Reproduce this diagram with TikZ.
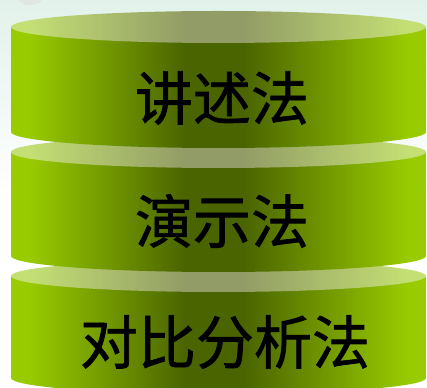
\documentclass[tikz,border=0pt]{standalone}
\usepackage{fontspec}
\usepackage{tikz}
\newfontfamily\cjk[FakeBold=1.2]{Noto Sans CJK SC}
\definecolor{sidegreen}{HTML}{99CC00}
\definecolor{sidedark}{HTML}{4A6400}
\definecolor{lidlight}{HTML}{C4E074}
\definecolor{liddark}{HTML}{929C66}
\definecolor{mintbg}{HTML}{E2F2EA}
\pgfdeclarehorizontalshading{bodyshade}{100bp}{color(0bp)=(sidegreen); color(27bp)=(sidegreen);
  color(46bp)=(sidedark); color(53bp)=(sidedark); color(73bp)=(sidegreen); color(100bp)=(sidegreen)}
\pgfdeclarehorizontalshading{lidshade}{100bp}{color(0bp)=(lidlight); color(27bp)=(lidlight);
  color(46bp)=(liddark); color(53bp)=(liddark); color(73bp)=(lidlight); color(100bp)=(lidlight)}
\tikzset{
  body/.style={shading=bodyshade},
  lid/.style={shading=lidshade},
  label/.style={font=\cjk\fontsize{58}{58}\selectfont, text=black}
}

\begin{document}
\begin{tikzpicture}[x=1pt,y=1pt]
        \useasboundingbox (0,0) rectangle (427,387);
        \clip (0,0) rectangle (427,387);

        % background
        \shade[top color=mintbg, bottom color=white] (0,190) rectangle (427,387);
        \fill[gray!25, opacity=0.6] (30,392) ellipse (14 and 10);

        % three discs, drawn from the bottom one up
        \foreach \yt/\yb in {111/9, 235/131, 360/255} {
            \shade[body] (11,\yb) arc[start angle=180, end angle=360, x radius=207.5pt, y radius=16pt]
                -- (426,\yt) -- (11,\yt) -- cycle;
            \shade[lid] (218.5,\yt) ellipse (207.5 and 16);
        }

        \node[label] (talk) at (222,289) {讲述法};
        \node[label] (show) at (222,166) {演示法};
        \node[label] (compare) at (225,45) {对比分析法};
\end{tikzpicture}
\end{document}
